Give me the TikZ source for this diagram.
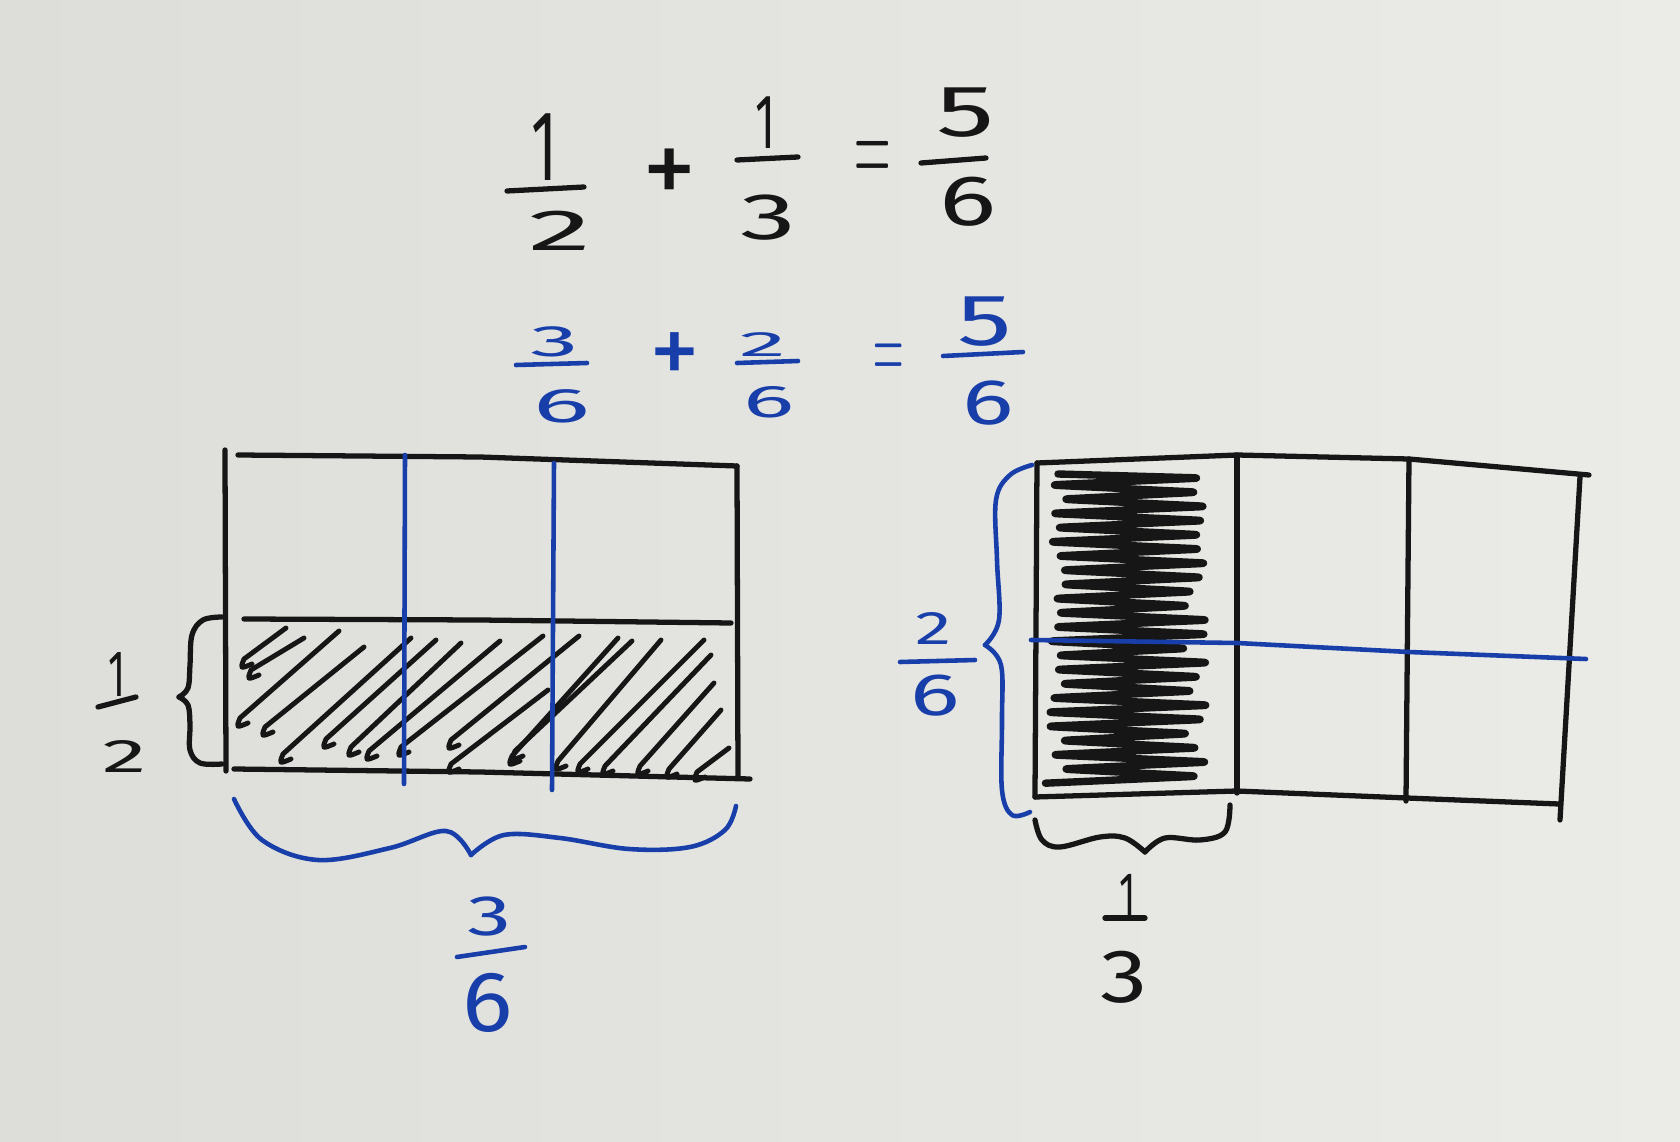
\documentclass[tikz,border=0pt]{standalone}
\usepackage{fontspec}
\setmainfont{Fira Sans}
\newfontfamily\lmfont{Latin Modern Roman}
\usepackage{graphicx}
\definecolor{ink}{RGB}{22,22,22}
\definecolor{bink}{RGB}{24,62,170}
\definecolor{paperL}{RGB}{221,222,217}
\definecolor{paperR}{RGB}{235,235,231}
\tikzset{
  pen/.style={draw=ink, line width=1.5pt, line cap=round, line join=round},
  bpen/.style={draw=bink, line width=1.3pt, line cap=round, line join=round},
  digit/.style={inner sep=0pt, outer sep=0pt, text=ink},
  bdigit/.style={digit, text=bink},
  hatchline/.style={draw=ink, line width=1.4pt, line cap=round, line join=round},
  scrib/.style={draw=ink, line width=2.1pt, line cap=round, line join=round, rounded corners=3pt},
}
\newcommand\dg[6][]{\node[digit,#1] (#2) at (#3) {\fontsize{#4pt}{#4pt}\selectfont\scalebox{#5}[1]{#6}};}
\newcommand\hatch[4]{\draw[hatchline] ({#1+9},{#2-1}) .. controls ({#1-3},{#2+4}) .. ({#1+1},{#2-6}) -- (#3,#4);}
\begin{document}
\begin{tikzpicture}[x=0.1mm,y=-0.1mm]
\useasboundingbox (0,0) rectangle (1680,1142);
\shade[left color=paperL, right color=paperR] (0,0) rectangle (1680,1142);

% ---- top equation (black)
\dg{t1n}{544,147}{28.4}{0.6}{1}
\draw[pen] (507,191) -- (584,187);
\dg{t1d}{560,231}{16.5}{2.2}{2}
\dg{tplus}{670,177}{31}{1}{+}
\dg{t2n}{766,123}{22}{0.6}{1}
\draw[pen] (737,160) -- (798,157);
\dg{t2d}{768,218}{18.7}{1.7}{3}
\dg{teq}{873,164}{36}{0.4}{\lmfont =}
\dg{t3n}{966,113}{20.7}{1.6}{5}
\draw[pen] (921,163) -- (986,158);
\dg{t3d}{968,202}{20.3}{1.5}{6}

% ---- blue equation
\dg[bdigit]{b1n}{555,342}{12.5}{2.2}{3}
\draw[bpen] (516,365) -- (587,363);
\dg[bdigit]{b1d}{562,406}{13.8}{2.2}{6}
\dg[bdigit]{bplus}{675,359}{29}{1}{+}
\dg[bdigit]{b2n}{763,345}{10}{2.7}{2}
\draw[bpen] (737,363) -- (798,361);
\dg[bdigit]{b2d}{769,402}{13}{2.1}{6}
\dg[bdigit]{beq}{889,363}{30}{0.4}{\lmfont =}
\dg[bdigit]{b3n}{985,322}{20.7}{1.5}{5}
\draw[bpen] (943,356) -- (1023,352);
\dg[bdigit]{b3d}{988,403}{18.3}{1.5}{6}

% ---- left rectangle
\hatch{243}{665}{286}{628}
\hatch{250}{676}{304}{638}
\hatch{239}{724}{339}{631}
\hatch{264}{733}{364}{647}
\hatch{282}{760}{411}{638}
\hatch{325}{745}{436}{640}
\hatch{350}{753}{461}{643}
\hatch{368}{757}{500}{641}
\hatch{400}{753}{543}{636}
\hatch{450}{746}{579}{636}
\hatch{450}{770}{548}{690}
\hatch{511}{762}{618}{638}
\hatch{514}{757}{632}{641}
\hatch{557}{767}{661}{640}
\hatch{579}{770}{704}{640}
\hatch{604}{772}{711}{655}
\hatch{639}{772}{714}{683}
\hatch{668}{775}{721}{710}
\hatch{696}{778}{729}{748}
\draw[pen] (225,450) -- (226,771);
\draw[pen] (238,455) -- (480,457) -- (737,466);
\draw[pen] (737,466) -- (738,777);
\draw[pen] (244,619) -- (480,620) -- (731,623);
\draw[pen] (234,769) -- (480,772) -- (750,779);
\draw[bpen] (405,455) -- (404,784);
\draw[bpen] (554,463) -- (552,790);

% left brace and 1/2
\draw[pen] plot[smooth, tension=0.6] coordinates {(222,617) (203,620) (192,635) (190,665) (188,688) (179,697)};
\draw[pen] plot[smooth, tension=0.6] coordinates {(179,697) (188,705) (190,725) (190,750) (200,763) (222,764)};
\dg{lhn}{117,675}{18.7}{0.6}{1}
\draw[pen] (98,707) -- (136,697);
\dg{lhd}{125,757}{13.4}{1.9}{2}

% bottom blue brace and 3/6
\draw[bpen] plot[smooth, tension=0.6] coordinates {(234,799) (262,840) (318,860) (390,848) (446,831) (471,855)};
\draw[bpen] plot[smooth, tension=0.6] coordinates {(471,855) (504,835) (560,838) (629,849) (690,847) (725,830) (736,806)};
\dg[bdigit]{bsn}{490,917}{16.2}{1.55}{3}
\draw[bpen] (457,957) -- (525,947);
\dg[bdigit]{bsd}{488,1003}{24.4}{1.1}{6}

% ---- right rectangle
\pgfmathsetseed{7}
\draw[scrib] (1058,474) \foreach \i in {0,...,21} { -- ({1200+12*rand}, {478+\i*14.2}) -- ({1052+8*rand}, {485+\i*14.2}) };
\draw[pen] (1037,463) -- (1237,455) -- (1409,459) -- (1589,475);
\draw[pen] (1037,463) -- (1035,797);
\draw[pen] (1035,797) -- (1237,791) -- (1407,798) -- (1559,804);
\draw[pen] (1580,477) -- (1560,820);
\draw[pen] (1237,455) -- (1237,793);
\draw[pen] (1409,459) -- (1406,801);
\draw[bpen] (1031,640) -- (1237,643) -- (1409,652) -- (1586,659);

% left blue brace and 2/6
\draw[bpen] plot[smooth, tension=0.6] coordinates {(1032,465) (1010,475) (996,500) (997,560) (999,620) (985,645)};
\draw[bpen] plot[smooth, tension=0.6] coordinates {(985,645) (1001,665) (1002,720) (1002,790) (1012,815) (1030,812)};
\dg[bdigit]{rtn}{934,629}{13.4}{1.55}{2}
\draw[bpen] (900,662) -- (975,660);
\dg[bdigit]{rtd}{935,696}{17}{1.55}{6}

% bottom black brace and 1/3
\draw[pen] plot[smooth, tension=0.6] coordinates {(1035,820) (1042,840) (1060,847) (1100,837) (1125,838) (1145,852)};
\draw[pen] plot[smooth, tension=0.6] coordinates {(1145,852) (1165,838) (1200,840) (1225,832) (1230,805)};
\dg{otn}{1128,895}{17.9}{0.6}{1}
\draw[pen] (1105,918) -- (1145,918);
\dg{otd}{1124,977}{21.5}{1.25}{3}
\end{tikzpicture}
\end{document}
